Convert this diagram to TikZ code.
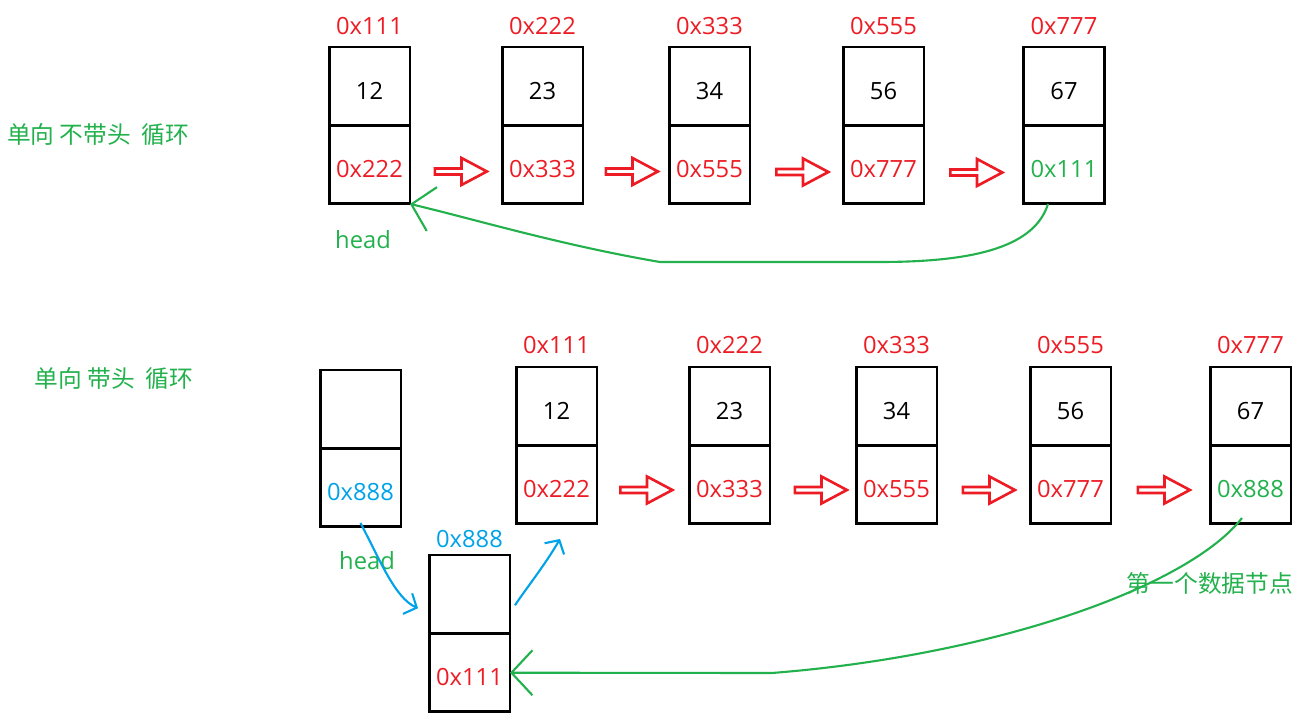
\documentclass[tikz,border=0pt]{standalone}
\usepackage{fontspec}
\setmainfont{Open Sans}
\newfontfamily\cjk{Noto Sans CJK SC}
\usetikzlibrary{positioning, shapes.arrows, arrows.meta}
\definecolor{pred}{RGB}{237,28,36}
\definecolor{pgreen}{RGB}{34,177,76}
\definecolor{pblue}{RGB}{0,162,232}
\tikzset{
    cell/.style={draw, line width=1.7pt, minimum width=1.62cm, minimum height=1.57cm,
      inner sep=0pt, outer sep=0pt, text height=0.52cm, text depth=0pt},
    addr/.style={text=pred, inner sep=0pt},
    note/.style={text=pgreen, inner sep=0pt},
    hollow/.style={single arrow, draw=pred, line width=1.5pt, minimum height=1.04cm,
      minimum width=0.54cm, single arrow head extend=0.09cm, single arrow tip angle=56,
      inner sep=0pt},
    link/.style={pgreen, line width=1.2pt, -{Straight Barb[length=0.42cm, width=0.9cm]}},
    hlink/.style={pblue, line width=1.2pt, -{Straight Barb[length=0.2cm, width=0.45cm]}}
}
\begin{document}
\begin{tikzpicture}[x=0.02cm, y=-0.02cm, font=\fontsize{13.5}{16}\selectfont]
    \useasboundingbox (0,0) rectangle (1312,715);
    \begin{scope}
      \node [note] (ttitle) at (98,135) {\cjk 单向 不带头\ \ 循环};
      \node [cell] (t1v) at (369.5,86.25) {12};
      \node [cell, text=pred, below=0pt of t1v] (t1p) {0x222};
      \node [addr, above=0.23cm of t1v] (t1a) {0x111};
      \node [cell] (t2v) at (542.5,86.25) {23};
      \node [cell, text=pred, below=0pt of t2v] (t2p) {0x333};
      \node [addr, above=0.23cm of t2v] (t2a) {0x222};
      \node [cell] (t3v) at (709.5,86.25) {34};
      \node [cell, text=pred, below=0pt of t3v] (t3p) {0x555};
      \node [addr, above=0.23cm of t3v] (t3a) {0x333};
      \node [cell] (t4v) at (883.5,86.25) {56};
      \node [cell, text=pred, below=0pt of t4v] (t4p) {0x777};
      \node [addr, above=0.23cm of t4v] (t4a) {0x555};
      \node [cell] (t5v) at (1064,86.25) {67};
      \node [cell, text=pgreen, below=0pt of t5v] (t5p) {0x111};
      \node [addr, above=0.23cm of t5v] (t5a) {0x777};
      \node [hollow] (ta1) at (458,171.5) {};
      \node [hollow] (ta2) at (629,171.5) {};
      \node [hollow] (ta3) at (799.5,172) {};
      \node [hollow] (ta4) at (973.5,172.5) {};
      \node [note] (thead) at (363,240) {head};
      \coordinate (tbend) at (660,262);
      \draw [link] ([xshift=-0.32cm]t5p.south) .. controls (1035,245) and (980,262) .. (880,262)
        -- (tbend) .. controls (560,245) and (470,218) .. (t1p.south east);
    \end{scope}
    \begin{scope}
      \node [note] (btitle) at (114,379) {\cjk 单向 带头\ \ 循环};
      \node [cell] (hv) at (360.5,409.25) {};
      \node [cell, text=pblue, below=0pt of hv] (hp) {0x888};
      \node [note] (bhead) at (367,561) {head};
      \node [cell] (sv) at (469.5,594.25) {};
      \node [cell, text=pred, below=0pt of sv] (sp) {0x111};
      \node [addr, text=pblue, above=0.13cm of sv] (sa) {0x888};
      \node [cell] (b1v) at (556.5,406.25) {12};
      \node [cell, text=pred, below=0pt of b1v] (b1p) {0x222};
      \node [addr, above=0.25cm of b1v] (b1a) {0x111};
      \node [cell] (b2v) at (729.5,406.25) {23};
      \node [cell, text=pred, below=0pt of b2v] (b2p) {0x333};
      \node [addr, above=0.25cm of b2v] (b2a) {0x222};
      \node [cell] (b3v) at (896.5,406.25) {34};
      \node [cell, text=pred, below=0pt of b3v] (b3p) {0x555};
      \node [addr, above=0.25cm of b3v] (b3a) {0x333};
      \node [cell] (b4v) at (1070.5,406.25) {56};
      \node [cell, text=pred, below=0pt of b4v] (b4p) {0x777};
      \node [addr, above=0.25cm of b4v] (b4a) {0x555};
      \node [cell] (b5v) at (1250.5,406.25) {67};
      \node [cell, text=pgreen, below=0pt of b5v] (b5p) {0x888};
      \node [addr, above=0.25cm of b5v] (b5a) {0x777};
      \node [hollow] (ba1) at (643.5,490) {};
      \node [hollow] (ba2) at (818,490) {};
      \node [hollow] (ba3) at (986,490) {};
      \node [hollow] (ba4) at (1161,490) {};
      \node [note] (bfirst) at (1210,583) {\cjk 第一个数据节点};
      \draw [hlink] ([yshift=0.08cm]hp.south) .. controls (380,560) and (395,598)
        .. ([xshift=-0.22cm, yshift=-0.28cm]sv.west);
      \draw [hlink] ([xshift=0.1cm, yshift=-0.22cm]sv.east) .. controls (525,590) and (545,565)
        .. ([xshift=0.07cm, yshift=-0.3cm]b1p.south);
      \coordinate (bbend) at (772,673);
      \draw [link] ([xshift=-0.17cm, yshift=0.12cm]b5p.south) .. controls (1190,585) and (1000,655)
        .. (bbend) -- (sp.east);
    \end{scope}
\end{tikzpicture}
\end{document}
